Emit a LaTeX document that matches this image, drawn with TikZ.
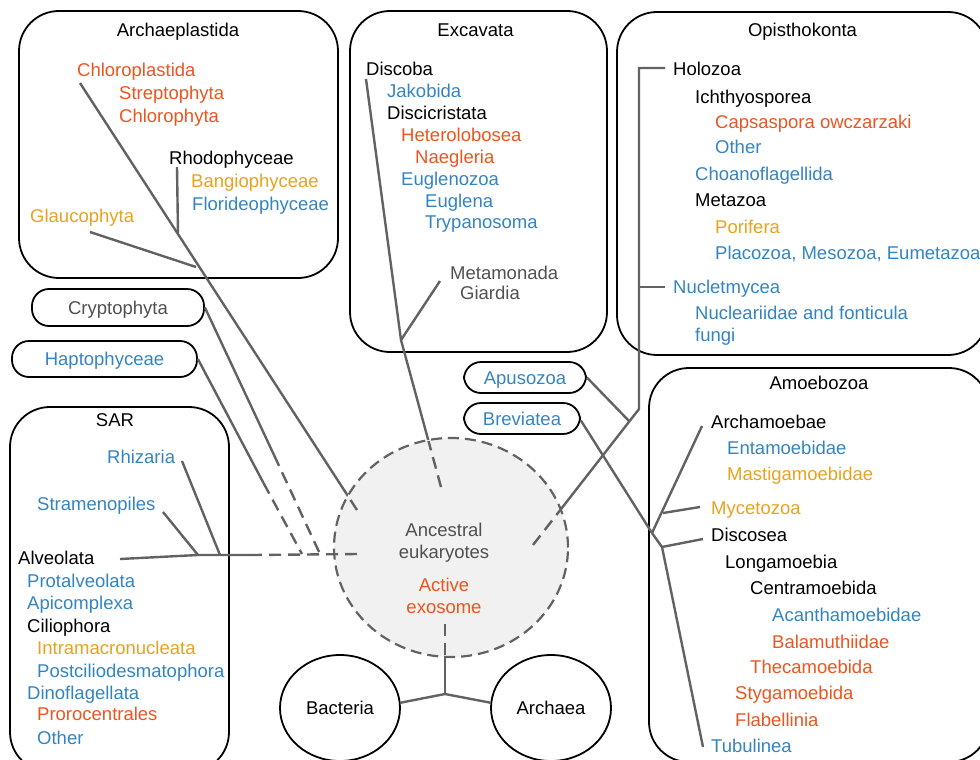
\documentclass[tikz,border=0pt]{standalone}
\usepackage{fontspec}
\setmainfont{Liberation Sans}
\usetikzlibrary{shapes.geometric}
\definecolor{cred}{HTML}{EA5520}
\definecolor{cyel}{HTML}{E8A21E}
\definecolor{cblu}{HTML}{3484BF}
\definecolor{cgry}{HTML}{505050}
\definecolor{cline}{HTML}{626262}
\definecolor{cfill}{HTML}{F1F1F1}
\begin{document}
\begin{tikzpicture}[x=1pt,y=-1pt,
  lbl/.style={anchor=west, inner sep=0pt, text height=13pt, text depth=0pt, font=\fontsize{18.5}{20}\selectfont},
  ctr/.style={anchor=center, inner sep=0pt, text height=13pt, text depth=0pt, font=\fontsize{18.5}{20}\selectfont},
  grp/.style={draw=black, line width=1.8pt, rounded corners=40pt, inner sep=0pt},
  pill/.style={draw=black, line width=1.8pt, rounded corners=17pt, inner sep=0pt, text height=13pt, text depth=0pt, font=\fontsize{18.5}{20}\selectfont},
  tree/.style={draw=cline, line width=2.4pt},
  dtree/.style={draw=cline, line width=2.4pt, dash pattern=on 12pt off 7pt},
  red/.style={text=cred}, yel/.style={text=cyel}, blu/.style={text=cblu}, gry/.style={text=cgry}]
\useasboundingbox (0,0) rectangle (980,760);

% group boxes
\node[grp, minimum width=319, minimum height=267] (archbox) at (178.5,144.5) {};
\node[grp, minimum width=257, minimum height=341] (excbox) at (478.5,181.5) {};
\node[grp, minimum width=371, minimum height=343] (opibox) at (802.5,183.5) {};
\node[grp, minimum width=219, minimum height=365] (sarbox) at (119.5,589.5) {};
\node[grp, minimum width=340, minimum height=394] (amobox) at (819,565) {};

% pills
\node[pill, minimum width=172, minimum height=37, text=cgry] (crypto) at (118,307.5) {Cryptophyta};
\node[pill, minimum width=185, minimum height=36, text=cblu] (hapto) at (104.5,359) {Haptophyceae};
\node[pill, minimum width=122, minimum height=31, text=cblu] (apu) at (525,377.5) {Apusozoa};
\node[pill, minimum width=116, minimum height=31, text=cblu] (brev) at (522,418.5) {Breviatea};

% coordinates
\coordinate (chlT) at (80,83);
\coordinate (rhoT) at (177,167);
\coordinate (rhoJ) at (178,233);
\coordinate (glaT) at (90,232);
\coordinate (glaJ) at (196,267);
\coordinate (archE) at (357,510);
\coordinate (disT) at (366,79);
\coordinate (metT) at (440,281);
\coordinate (metJ) at (401,340);
\coordinate (excE) at (441,487);
\coordinate (opiT) at (639,68);
\coordinate (nucJ) at (639,287);
\coordinate (holH) at (665,68);
\coordinate (nucH) at (665,287);
\coordinate (opiB) at (639,409);
\coordinate (apuJ) at (629,421);
\coordinate (opiE) at (533,545);
\coordinate (amoJ) at (652,533);
\coordinate (arcT) at (702,426);
\coordinate (mycJ) at (663,513);
\coordinate (mycT) at (700,507);
\coordinate (disJ) at (662,547);
\coordinate (disE) at (703,539);
\coordinate (tubT) at (703,747);
\coordinate (alvT) at (120,559);
\coordinate (strJ) at (198,555);
\coordinate (rhiJ) at (220,555);
\coordinate (sarS) at (253,555);
\coordinate (sarE) at (357,554);
\coordinate (strT) at (163,512);
\coordinate (rhiT) at (182,461);
\coordinate (cryD) at (274,455);
\coordinate (cryE) at (320,554);
\coordinate (hapD) at (263.5,483);
\coordinate (hapE) at (302,554);
\coordinate (rootJ) at (445,694);
\coordinate (rootE) at (445,624);

% solid tree lines
\draw[tree] (chlT) -- (archE);
\draw[tree] (rhoT) -- (rhoJ);
\draw[tree] (glaT) -- (glaJ);
\draw[tree] (disT) -- (metJ) -- (excE);
\draw[tree] (metT) -- (metJ);
\draw[tree] (holH) -- (opiT) -- (opiB) -- (opiE);
\draw[tree] (nucJ) -- (nucH);
\draw[tree] (apu.east) -- (apuJ);
\draw[tree] ([yshift=-2pt]brev.east) -- (amoJ);
\draw[tree] (amoJ) -- (arcT);
\draw[tree] (mycJ) -- (mycT);
\draw[tree] (amoJ) -- (disJ) -- (tubT);
\draw[tree] (disJ) -- (disE);
\draw[tree] (alvT) -- (strJ) -- (sarS);
\draw[tree] (strT) -- (strJ);
\draw[tree] (rhiT) -- (rhiJ);
\draw[tree] (crypto.east) -- (cryD);
\draw[tree] (hapto.east) -- (hapD);
\draw[dtree] (cryD) -- (cryE);
\draw[dtree] (hapD) -- (hapE);

% bacteria & archaea
\node[ellipse, draw=black, line width=1.8pt, minimum width=120, minimum height=106, inner sep=0pt, font=\fontsize{18.5}{20}\selectfont] (bact) at (340,708) {Bacteria};
\node[ellipse, draw=black, line width=1.8pt, minimum width=120, minimum height=106, inner sep=0pt, font=\fontsize{18.5}{20}\selectfont] (archa) at (551,708) {Archaea};
\draw[tree] (bact.5) -- (rootJ) -- (archa.175);
\draw[tree] (rootJ) -- (rootE);

% ancestral circle
\node[ellipse, draw=cline, fill=cfill, line width=2.2pt, dash pattern=on 11pt off 6pt, minimum width=234, minimum height=219, inner sep=0pt] (anc) at (451,547.5) {};
\begin{scope}
\clip (451,547.5) ellipse [x radius=116, y radius=108.5];
\draw[dtree] (archE) -- (chlT);
\draw[dtree] (excE) -- (metJ);
\draw[dtree] (opiE) -- (opiB);
\draw[dtree] (rootE) -- (rootJ);
\end{scope}
\draw[dtree] (sarE) -- (sarS);

\node[ctr, gry] (t1) at (444,530) {Ancestral};
\node[ctr, gry] (t2) at (444,552) {eukaryotes};
\node[ctr, red] (t3) at (444,585) {Active};
\node[ctr, red] (t4) at (444,607) {exosome};

% Archaeplastida
\node[ctr] (h1) at (178,30) {Archaeplastida};
\node[lbl, red] (a1) at (77,70) {Chloroplastida};
\node[lbl, red] (a2) at (119,93) {Streptophyta};
\node[lbl, red] (a3) at (119,116) {Chlorophyta};
\node[lbl] (a4) at (169,158) {Rhodophyceae};
\node[lbl, yel] (a5) at (191,181) {Bangiophyceae};
\node[lbl, blu] (a6) at (192,204) {Florideophyceae};
\node[lbl, yel] (a7) at (30,216) {Glaucophyta};

% Excavata
\node[ctr] (h2) at (475.5,30) {Excavata};
\node[lbl] (e1) at (366,69) {Discoba};
\node[lbl, blu] (e2) at (387,91) {Jakobida};
\node[lbl] (e3) at (387,113) {Discicristata};
\node[lbl, red] (e4) at (401,135) {Heterolobosea};
\node[lbl, red] (e5) at (415,157) {Naegleria};
\node[lbl, blu] (e6) at (401,179) {Euglenozoa};
\node[lbl, blu] (e7) at (425,201) {Euglena};
\node[lbl, blu] (e8) at (425,222) {Trypanosoma};
\node[lbl, gry] (e9) at (450,273) {Metamonada};
\node[lbl, gry] (e10) at (460,293) {Giardia};

% Opisthokonta
\node[ctr] (h3) at (802.5,30) {Opisthokonta};
\node[lbl] (o1) at (673,69) {Holozoa};
\node[lbl] (o2) at (695,97) {Ichthyosporea};
\node[lbl, red] (o3) at (715,122) {Capsaspora owczarzaki};
\node[lbl, blu] (o4) at (715,147) {Other};
\node[lbl, blu] (o5) at (695,174) {Choanoflagellida};
\node[lbl] (o6) at (695,200) {Metazoa};
\node[lbl, yel] (o7) at (715,227) {Porifera};
\node[lbl, blu] (o8) at (715,253) {Placozoa, Mesozoa, Eumetazoa};
\node[lbl, blu] (o9) at (673,287) {Nucletmycea};
\node[lbl, blu] (o10) at (695,313) {Nucleariidae and fonticula};
\node[lbl, blu] (o11) at (695,335) {fungi};

% SAR
\node[ctr] (h4) at (115,420) {SAR};
\node[lbl, blu] (s1) at (107,457) {Rhizaria};
\node[lbl, blu] (s2) at (37,504) {Stramenopiles};
\node[lbl] (s3) at (18,558) {Alveolata};
\node[lbl, blu] (s4) at (27,581) {Protalveolata};
\node[lbl, blu] (s5) at (27,603) {Apicomplexa};
\node[lbl] (s6) at (27,626) {Ciliophora};
\node[lbl, yel] (s7) at (37,648) {Intramacronucleata};
\node[lbl, blu] (s8) at (37,671) {Postciliodesmatophora};
\node[lbl, blu] (s9) at (27,693) {Dinoflagellata};
\node[lbl, red] (s10) at (37,714) {Prorocentrales};
\node[lbl, blu] (s11) at (37,738) {Other};

% Amoebozoa
\node[ctr] (h5) at (819,383) {Amoebozoa};
\node[lbl] (m1) at (711,422) {Archamoebae};
\node[lbl, blu] (m2) at (727,448) {Entamoebidae};
\node[lbl, yel] (m3) at (727,474) {Mastigamoebidae};
\node[lbl, yel] (m4) at (711,508) {Mycetozoa};
\node[lbl] (m5) at (711,535) {Discosea};
\node[lbl] (m6) at (725,562) {Longamoebia};
\node[lbl] (m7) at (750,588) {Centramoebida};
\node[lbl, blu] (m8) at (772,615) {Acanthamoebidae};
\node[lbl, red] (m9) at (772,642) {Balamuthiidae};
\node[lbl, red] (m10) at (750,667) {Thecamoebida};
\node[lbl, red] (m11) at (735,693) {Stygamoebida};
\node[lbl, red] (m12) at (735,720) {Flabellinia};
\node[lbl, blu] (m13) at (711,746) {Tubulinea};
\end{tikzpicture}
\end{document}
